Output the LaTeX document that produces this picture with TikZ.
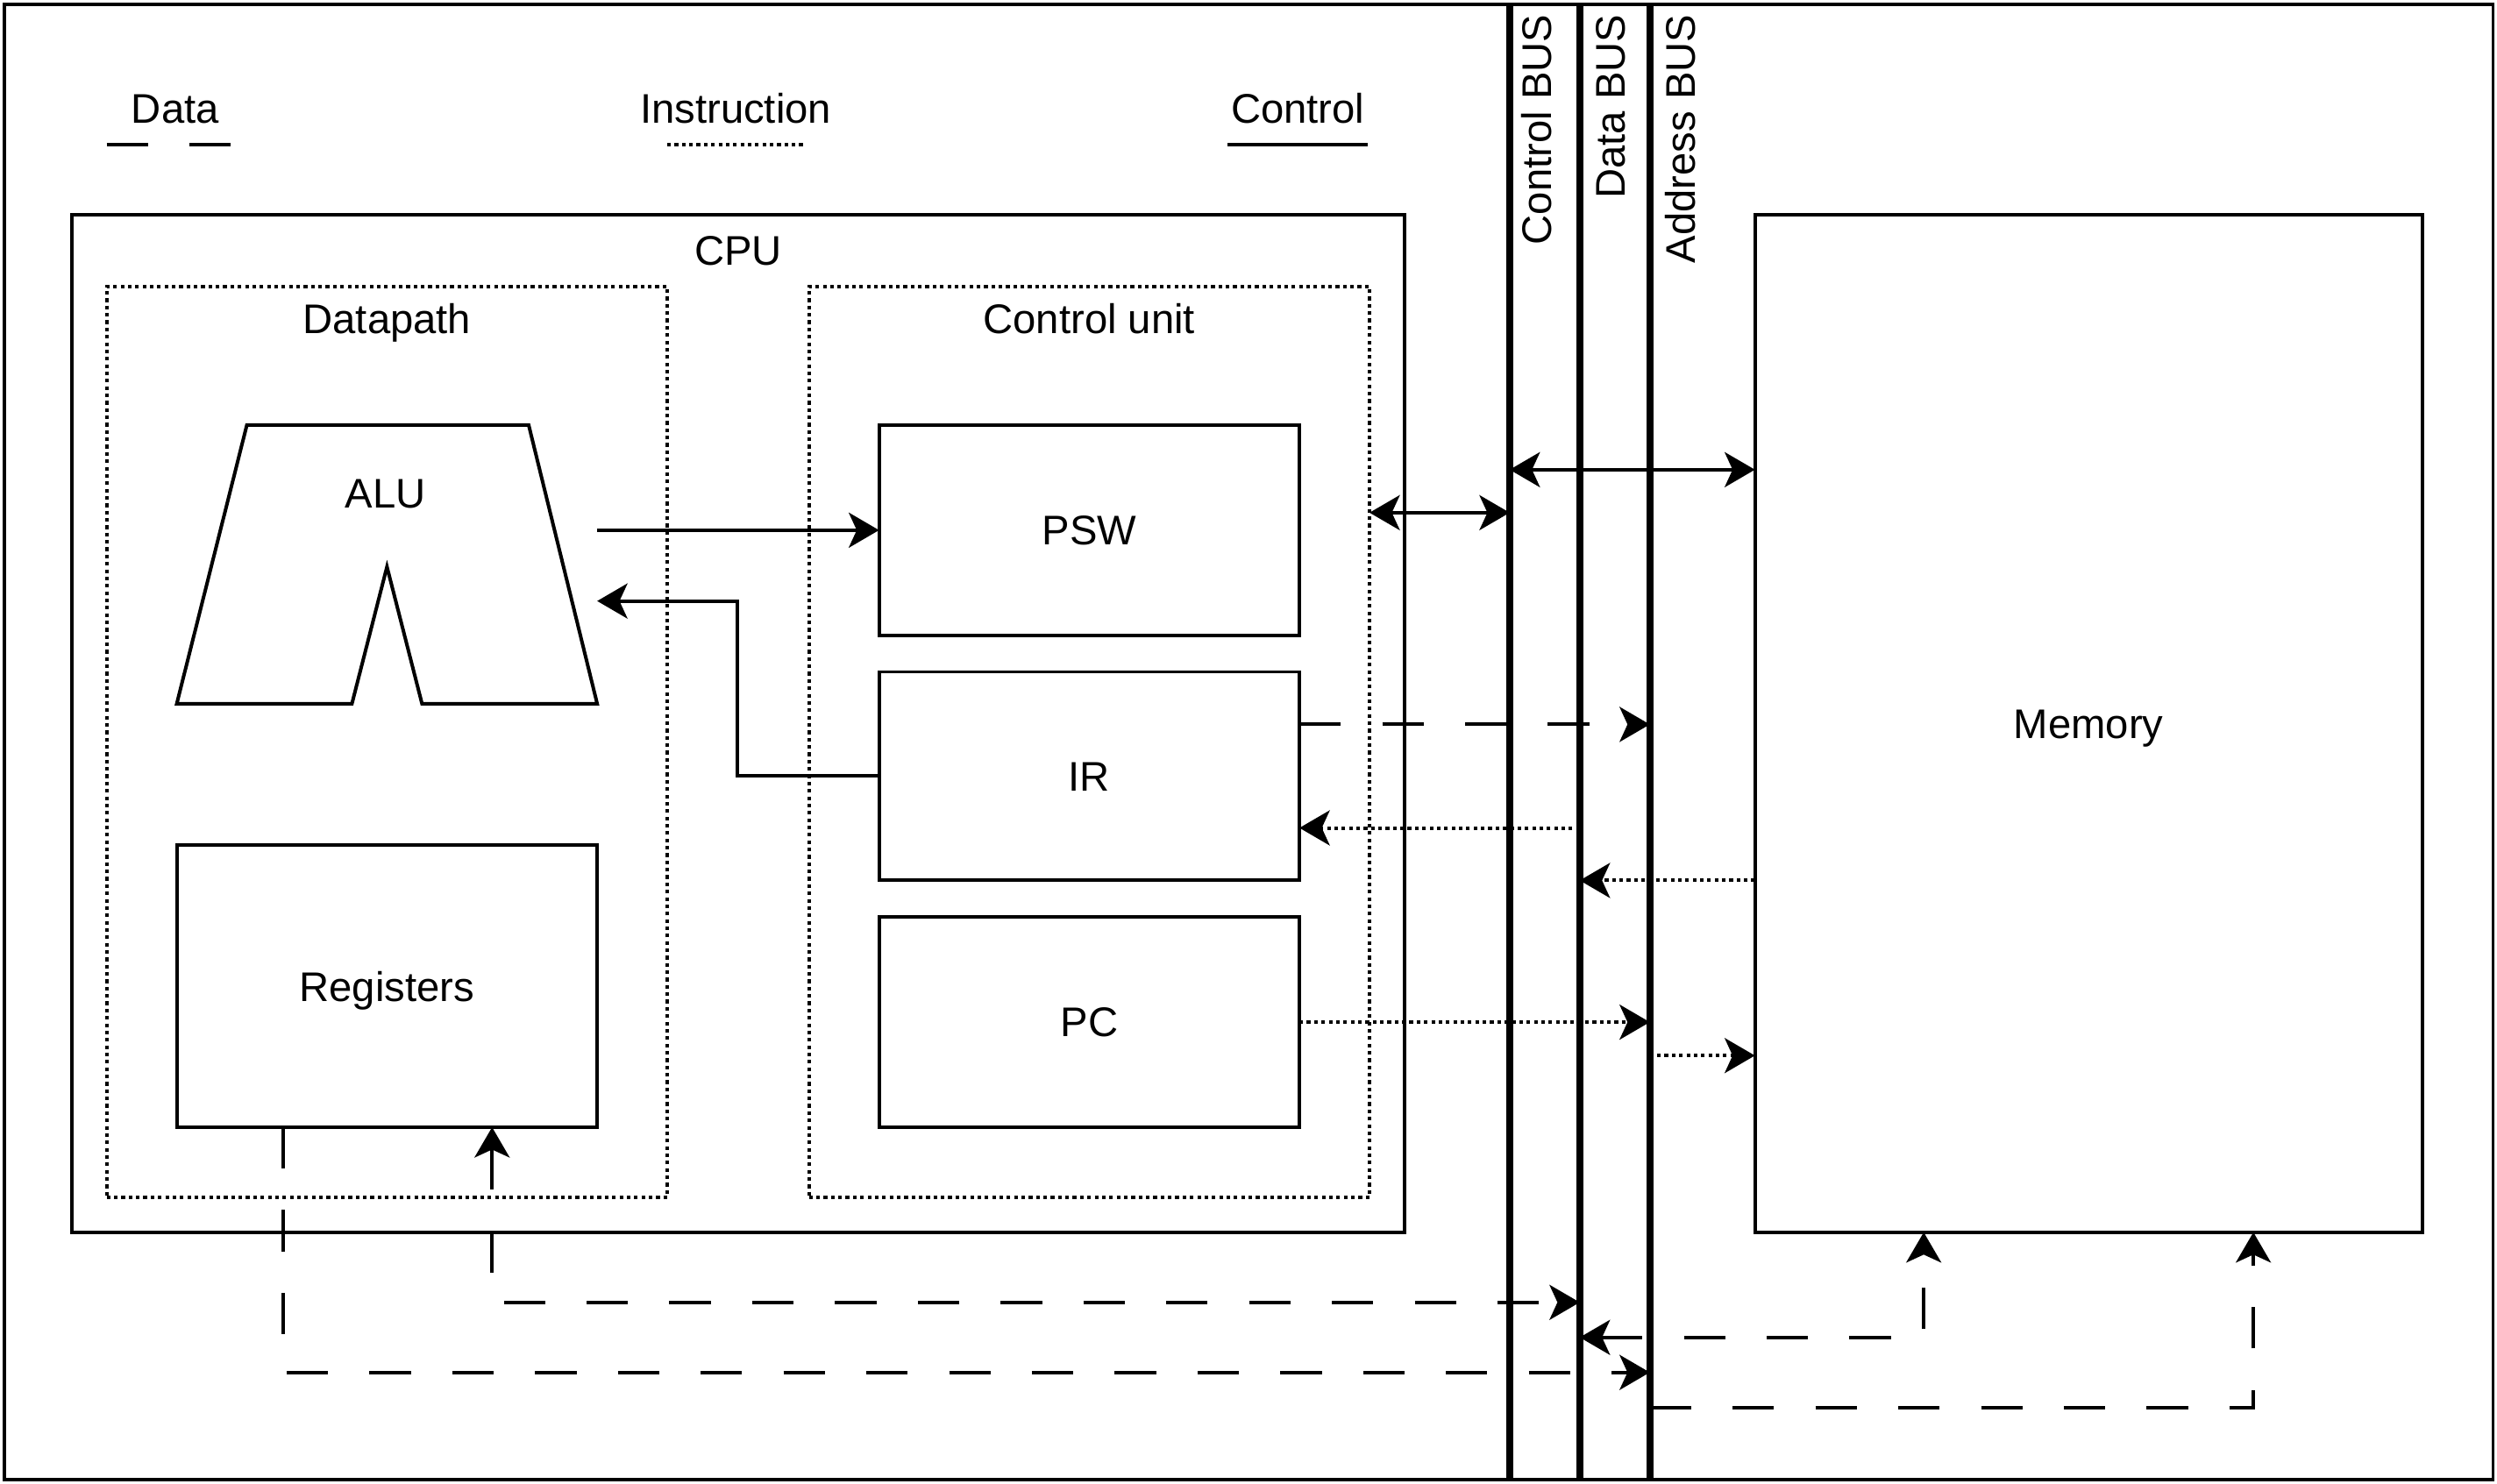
\documentclass[tikz,border=0pt]{standalone}
\usepackage{fontspec}
\setmainfont{Liberation Sans}
\usetikzlibrary{arrows.meta,positioning,calc}
\tikzset{
  wire/.style = {line width=2.2pt},
  box/.style = {draw, wire, minimum width=264pt, inner sep=0pt, outer sep=0pt},
  group/.style = {draw, line width=2pt, dash pattern=on 2.3pt off 2.3pt, minimum width=352pt, minimum height=572pt, outer sep=0pt},
  lbl/.style = {inner sep=0pt, text height=18.6pt, text depth=0pt},
  bus/.style = {line width=4.2pt},
  data/.style = {wire, dash pattern=on 26pt off 26pt},
  instr/.style = {wire, dash pattern=on 2.3pt off 2.3pt}
}
\begin{document}
\begin{tikzpicture}[x = 1pt, y = -1pt, font = \fontsize{26}{31}\selectfont, >={Stealth[length=19pt, width=22pt, inset=5pt]}]
    \useasboundingbox (0,0) rectangle (1568,931.6);
    \draw[wire] (2.5,3) rectangle (1565.5,929.5);
    \node[lbl] (ldata) at (110,68) {Data};
    \node[lbl] (linstr) at (462,68) {Instruction};
    \node[lbl] (lctrl) at (815,68) {Control};
    \draw[data] (67,91) -- (146,91);
    \draw[instr] (419,91) -- (505,91);
    \draw[wire] (771,91) -- (859,91);
    \node[box, minimum width=837pt, minimum height=639pt] (cpu) at (463.5,454.5) {};
    \node[lbl, anchor = north] at ([yshift=-12.7pt]cpu.north) {CPU};
    \node[group] (dp) at (243,466) {};
    \node[lbl, anchor = north] at ([yshift=-10.7pt]dp.north) {Datapath};
    \node[group] (cu) at (684,466) {};
    \node[lbl, anchor = north] at ([yshift=-10.7pt]cu.north) {Control unit};
    \draw[wire] (155,267) -- (332,267) -- (375,442) -- (265,442) -- (243,356) -- (221,442) -- (111,442) -- cycle;
    \node[minimum width=264pt, minimum height=175pt, inner sep=0pt, outer sep=0pt] (alu) at (243,354.5) {};
    \node[lbl] at (242,310) {ALU};
    \node[box, lbl, minimum height=177pt] (reg) at (243,619.5) {Registers};
    \node[box, lbl, minimum height=132pt] (psw) at (684,333) {PSW};
    \node[box, lbl, minimum height=131pt, below = 23pt of psw] (ir) {IR};
    \node[box, lbl, minimum height=132pt, below = 23pt of ir] (pc) {PC};
    \node[box, lbl, minimum width=419pt, minimum height=639pt] (mem) at (1311.5,454.5) {Memory};
    \coordinate (cbus) at (948,3);
    \coordinate (dbus) at (992,3);
    \coordinate (abus) at (1036,3);
    \coordinate (bot) at (0,929.5);
    \draw[bus] (cbus) -- (cbus |- bot);
    \draw[bus] (dbus) -- (dbus |- bot);
    \draw[bus] (abus) -- (abus |- bot);
    \node[lbl, rotate = 90, anchor = east] at (965,9) {Control BUS};
    \node[lbl, rotate = 90, anchor = east] at (1011,9) {Data BUS};
    \node[lbl, rotate = 90, anchor = east] at (1055,9) {Address BUS};
    \coordinate (cb1) at (948,322);
    \coordinate (cb2) at (948,295);
    \coordinate (ab1) at (1036,455);
    \coordinate (db1) at (992,520);
    \coordinate (db2) at (992,553);
    \coordinate (ab3) at (1036,663);
    \coordinate (db3) at (992,818);
    \coordinate (db4) at (992,840);
    \coordinate (ab4) at (1036,862);
    \coordinate (ab5) at (1036,884);
    \draw[wire, ->] (alu.east |- psw.west) -- (psw.west);
    \draw[wire, ->] (ir.west) -- ++(-89,0) |- ([yshift=-23pt]alu.east);
    \draw[wire, <->] (cu.east |- cb1) -- (cb1);
    \draw[wire, <->] (cb2) -- (mem.west |- cb2);
    \draw[data, ->] (ir.east |- ab1) -- (ab1);
    \draw[instr, ->] (db1) -- (ir.east |- db1);
    \draw[instr, ->] (mem.west |- db2) -- (db2);
    \draw[instr, ->] (pc.east) -- (pc.east -| abus);
    \draw[instr, ->] (ab3) -- (mem.west |- ab3);
    \draw[data, <->] ([xshift=66pt]reg.south) |- (db3);
    \draw[data, ->] ([xshift=-65pt]reg.south) |- (ab4);
    \draw[data, <->] (db4) -| ([xshift=-103.5pt]mem.south);
    \draw[data, ->] (ab5) -| ([xshift=103.5pt]mem.south);
\end{tikzpicture}
\end{document}
